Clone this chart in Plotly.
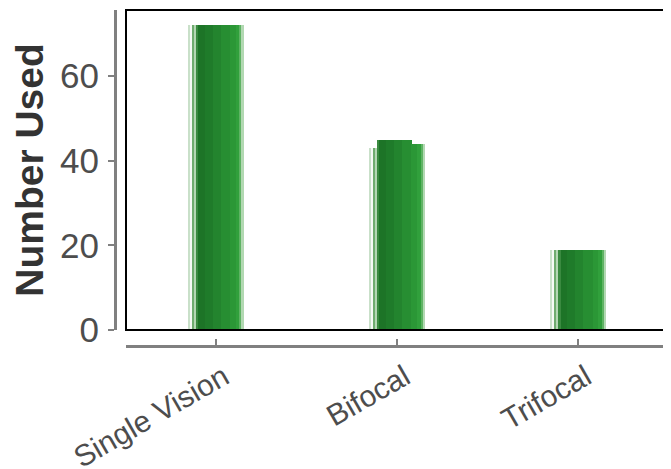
import plotly.graph_objects as go

# ---- data ----
categories = ["Single Vision", "Bifocal", "Trifocal"]
left_part = [72, 43, 19]     # left highlight strip of each bar
middle_part = [72, 45, 19]   # central body of each bar
right_part = [72, 44, 19]    # right edge of each bar
y_ticks = [0, 20, 40, 60]

parts = {"left": left_part, "mid": middle_part, "right": right_part}

# ---- styling: gradient strips (fraction of bar width, colour, part) ----
BAR_WIDTH = 0.305
strips = [
    (0.000, 0.035, "#c9e0c9", "left"),
    (0.035, 0.075, "#f6faf6", "left"),
    (0.075, 0.105, "#6fac6f", "left"),
    (0.105, 0.145, "#b4d7b4", "left"),
    (0.145, 0.185, "#3a8a40", "mid"),
    (0.185, 0.300, "#1d7427", "mid"),
    (0.300, 0.450, "#1f7b2a", "mid"),
    (0.450, 0.600, "#23842e", "mid"),
    (0.600, 0.765, "#278e32", "mid"),
    (0.765, 0.870, "#2b9736", "right"),
    (0.870, 0.930, "#31a03c", "right"),
    (0.930, 0.965, "#5fb364", "right"),
    (0.965, 1.000, "#b2d8b2", "right"),
]

fig = go.Figure()
for f0, f1, color, part in strips:
    fig.add_trace(go.Bar(
        x=categories,
        y=parts[part],
        width=(f1 - f0) * BAR_WIDTH + 0.002,
        offset=-BAR_WIDTH / 2 + f0 * BAR_WIDTH,
        marker=dict(color=color, line=dict(width=0)),
        showlegend=False,
        hoverinfo="x+y",
    ))

axis_gray = "#808080"
label_color = "#4d4d4d"
font_family = "Liberation Sans, Arial, sans-serif"

fig.update_layout(
    width=663,
    height=461,
    margin=dict(l=92, r=6, t=2, b=109),
    paper_bgcolor="white",
    plot_bgcolor="white",
    barmode="overlay",
    bargap=0,
    font=dict(family=font_family, color=label_color),
    xaxis=dict(
        domain=[26 / 565, 564 / 565],
        range=[-0.495, 2.475],
        anchor="free",
        position=14 / 350,
        showline=True,
        linecolor=axis_gray,
        linewidth=3,
        ticks="inside",
        ticklen=6,
        tickwidth=2,
        tickcolor=axis_gray,
        tickangle=-30,
        ticklabelshift=8,
        tickfont=dict(size=30, color=label_color, family=font_family),
        showgrid=False,
        zeroline=False,
        automargin=False,
    ),
    yaxis=dict(
        domain=[30 / 350, 1],
        range=[0, 75.6],
        anchor="free",
        position=15 / 565,
        showline=True,
        linecolor=axis_gray,
        linewidth=3,
        ticks="outside",
        ticklen=6,
        tickwidth=2,
        tickcolor=axis_gray,
        tickvals=y_ticks,
        ticklabelstandoff=2,
        tickfont=dict(size=35, color=label_color, family=font_family),
        showgrid=False,
        zeroline=False,
        automargin=False,
        title=dict(
            text="<b>Number Used</b>",
            font=dict(size=39, color="#333333", family=font_family),
            standoff=10,
        ),
    ),
    shapes=[dict(
        type="rect", xref="x domain", yref="y domain",
        x0=0, x1=1, y0=0, y1=1,
        line=dict(color="black", width=2),
        fillcolor="rgba(0,0,0,0)",
        layer="above",
    )],
)

fig.write_html("out.html")
